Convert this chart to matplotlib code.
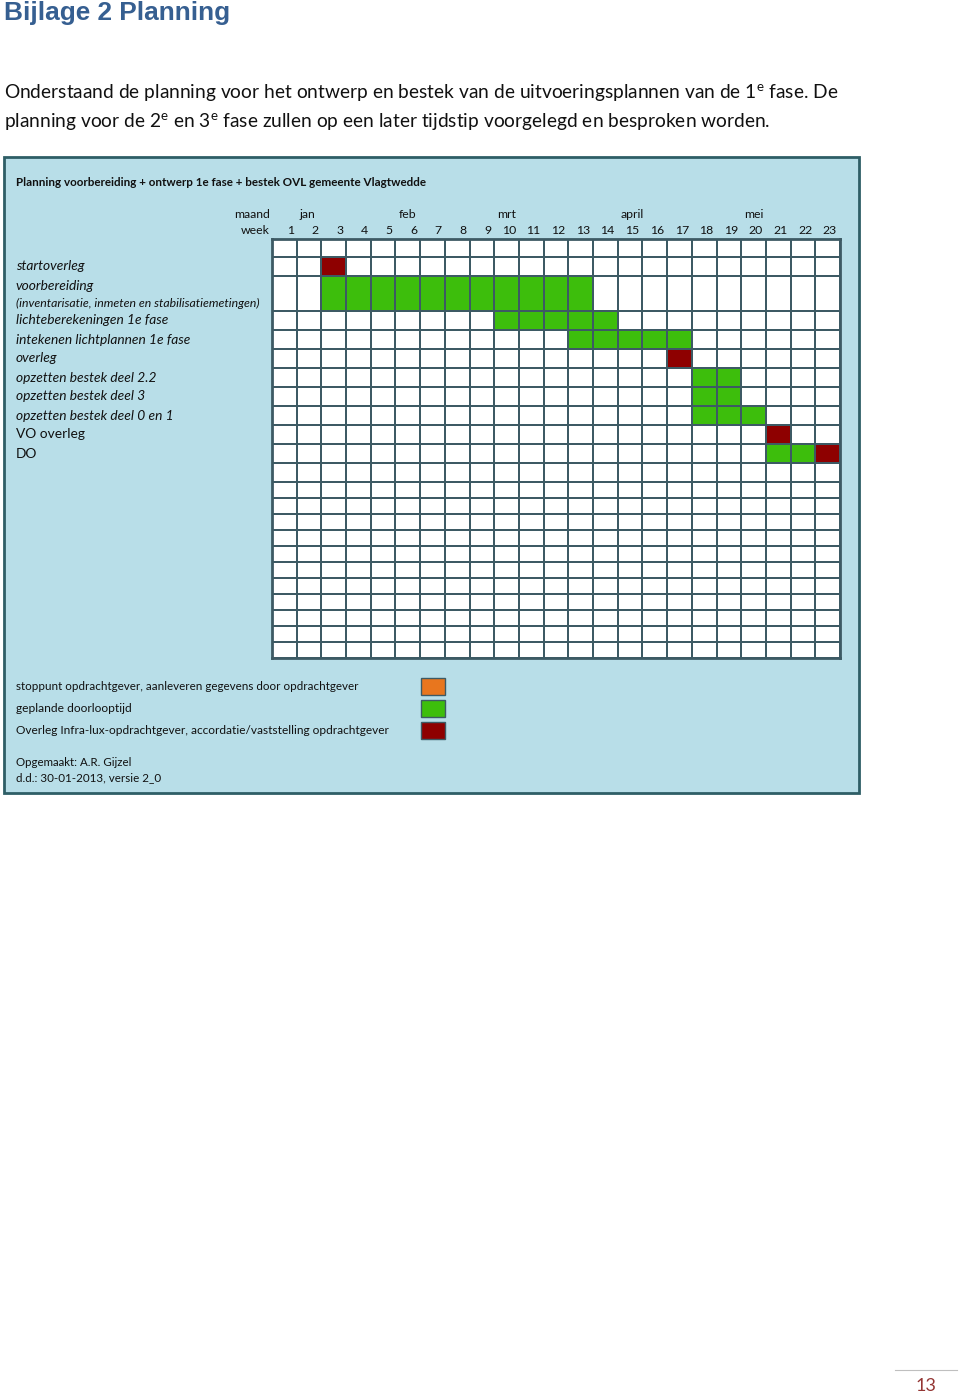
import matplotlib
matplotlib.use('Agg')
import matplotlib.pyplot as plt
import numpy as np
from matplotlib.colors import ListedColormap, BoundaryNorm
from matplotlib.patches import Rectangle
import matplotlib.transforms as mtransforms

# ---------------- data ----------------
task_labels = ['startoverleg', 'voorbereiding', 'lichteberekeningen 1e fase',
               'intekenen lichtplannen 1e fase', 'overleg', 'opzetten bestek deel 2.2',
               'opzetten bestek deel 3', 'opzetten bestek deel 0 en 1', 'VO overleg', 'DO']
task_italic = [True, True, True, True, True, True, True, True, False, False]
task_sub = '(inventarisatie, inmeten en stabilisatiemetingen)'

weeks = list(range(1, 24))
months = ['jan', 'feb', 'mrt', 'april', 'mei']
month_week = [2, 6, 10, 15, 20]

# segments: task index, start week, end week, kind
seg_task = [0, 1, 2, 3, 4, 5, 6, 7, 8, 9, 9]
seg_start = [3, 3, 10, 13, 17, 18, 18, 18, 21, 21, 23]
seg_end = [3, 13, 14, 17, 17, 19, 19, 20, 21, 22, 23]
seg_kind = ['overleg', 'doorloop', 'doorloop', 'doorloop', 'overleg', 'doorloop',
            'doorloop', 'doorloop', 'overleg', 'doorloop', 'overleg']

legend_labels = ['stoppunt opdrachtgever, aanleveren gegevens door opdrachtgever',
                 'geplande doorlooptijd',
                 'Overleg Infra-lux-opdrachtgever, accordatie/vaststelling opdrachtgever']
legend_kinds = ['stoppunt', 'doorloop', 'overleg']

# ---------------- style ----------------
kind_code = {'leeg': 0, 'doorloop': 1, 'overleg': 2, 'stoppunt': 3}
kind_color = {'leeg': '#FFFFFF', 'doorloop': '#3DBE0C', 'overleg': '#8E0000', 'stoppunt': '#E8761E'}
grid_color = '#3D5A64'
panel_bg = '#B8DEE8'
panel_edge = '#2E5E66'
body_font = ['Lato', 'DejaVu Sans']
plt.rcParams['mathtext.fontset'] = 'custom'
plt.rcParams['mathtext.rm'] = 'Lato'

# row heights in pixels (header row, task rows, empty rows)
row_heights = [18, 19, 35] + [19] * 8 + [19] + [16] * 11
task_row = [1, 2, 3, 4, 5, 6, 7, 8, 9, 10]

W, H = 960, 1399
fig = plt.figure(figsize=(9.6, 13.99), dpi=100)
fig.patch.set_facecolor('white')
ax0 = fig.add_axes([0, 0, 1, 1])
ax0.set_xlim(0, W)
ax0.set_ylim(H, 0)
ax0.axis('off')
renderer = fig.canvas.get_renderer()


def fit(ax, x, y, s, width, ha='left', va='center', transform=None, **kw):
    if transform is None:
        transform = ax.transData
    t = ax.text(x, y, s, fontsize=10, ha=ha, va=va, transform=transform, **kw)
    w = t.get_window_extent(renderer).width
    t.set_fontsize(10 * width / w)
    return t


# page heading and intro
fit(ax0, 4, 13, 'Bijlage 2 Planning', 226, family=['Liberation Sans', 'DejaVu Sans'],
    fontweight='bold', color='#365F91')
fit(ax0, 4, 93, r'Onderstaand de planning voor het ontwerp en bestek van de uitvoeringsplannen van de 1$^{\mathrm{e}}$ fase. De',
    835, family=body_font, color='#111111')
fit(ax0, 4, 122, r'planning voor de 2$^{\mathrm{e}}$ en 3$^{\mathrm{e}}$ fase zullen op een later tijdstip voorgelegd en besproken worden.',
    769, family=body_font, color='#111111')

# panel
ax0.add_patch(Rectangle((4, 157), 855, 636, facecolor=panel_bg, edgecolor=panel_edge, lw=2.0))
fit(ax0, 16, 183, 'Planning voorbereiding + ontwerp 1e fase + bestek OVL gemeente Vlagtwedde', 409,
    family=body_font, fontweight='bold', color='#111111')

# grid axes
gx0, gx1, gy0 = 272, 840, 239
gh = sum(row_heights)
axg = fig.add_axes([gx0 / W, 1 - (gy0 + gh) / H, (gx1 - gx0) / W, gh / H])
yedges = np.concatenate([[0], np.cumsum(row_heights)])
xedges = np.arange(0.5, len(weeks) + 1.0, 1.0)
mat = np.zeros((len(row_heights), len(weeks)))
for t, s, e, k in zip(seg_task, seg_start, seg_end, seg_kind):
    r = task_row[t]
    mat[r, s - 1:e] = kind_code[k]
order = ['leeg', 'doorloop', 'overleg', 'stoppunt']
cmap = ListedColormap([kind_color[k] for k in order])
norm = BoundaryNorm(np.arange(-0.5, 4.0, 1.0), cmap.N)
axg.pcolormesh(xedges, yedges, mat, cmap=cmap, norm=norm, edgecolors=grid_color, linewidth=1.3)
axg.set_xlim(0.5, len(weeks) + 0.5)
axg.set_ylim(gh, 0)
axg.set_xticks([])
axg.set_yticks([])
for sp in axg.spines.values():
    sp.set_color(grid_color)
    sp.set_linewidth(2.0)

# header labels
hdr_size = 8.8
xwk = mtransforms.blended_transform_factory(axg.transData, ax0.transData)
ax0.text(270, 215, 'maand', ha='right', va='center', fontsize=hdr_size, family=body_font, color='#111111')
ax0.text(270, 231, 'week', ha='right', va='center', fontsize=hdr_size, family=body_font, color='#111111')
for m, wk in zip(months, month_week):
    ax0.text(wk - 0.38, 215, m, ha='left', va='center', fontsize=hdr_size, family=body_font,
             color='#111111', transform=xwk)
for wk in weeks:
    ax0.text(wk + 0.38, 231, str(wk), ha='right', va='center', fontsize=hdr_size, family=body_font,
             color='#111111', transform=xwk)

# task labels (y in grid row coordinates)
ylab = mtransforms.blended_transform_factory(ax0.transData, axg.transData)
ref = fit(ax0, 16, 0, 'intekenen lichtplannen 1e fase', 174, family=body_font, style='italic',
          transform=ylab)
lab_size = ref.get_fontsize()
ref.remove()
for i, (lab, it) in enumerate(zip(task_labels, task_italic)):
    r = task_row[i]
    yc = (yedges[r] + yedges[r + 1]) / 2
    if i == 1:
        yc = yedges[r] + 10
    ax0.text(16, yc, lab, ha='left', va='center', fontsize=lab_size, family=body_font,
             style='italic' if it else 'normal', color='#111111', transform=ylab)
r = task_row[1]
fit(ax0, 16, yedges[r + 1] - 8, task_sub, 242, family=body_font, style='italic',
    color='#111111', transform=ylab)

# legend
leg_y = [686, 708, 730]
for lab, k, y in zip(legend_labels, legend_kinds, leg_y):
    ax0.add_patch(Rectangle((421, y - 8.5), 24, 17, facecolor=kind_color[k],
                            edgecolor='#3D5A64', lw=1.0))
fit(ax0, 16, leg_y[0], legend_labels[0], 341, family=body_font, color='#111111')
fit(ax0, 16, leg_y[1], legend_labels[1], 117, family=body_font, color='#111111')
fit(ax0, 16, leg_y[2], legend_labels[2], 371, family=body_font, color='#111111')

fit(ax0, 16, 762, 'Opgemaakt: A.R. Gijzel', 115, family=body_font, color='#111111')
fit(ax0, 16, 778, 'd.d.: 30-01-2013, versie 2_0', 144, family=body_font, color='#111111')

# page number
ax0.plot([895, 957], [1370, 1370], color='#BFBFBF', lw=0.8)
ax0.text(926, 1386, '13', ha='center', va='center', fontsize=13, family=body_font, color='#943634')

fig.savefig('out.png', dpi=100, facecolor='white')
